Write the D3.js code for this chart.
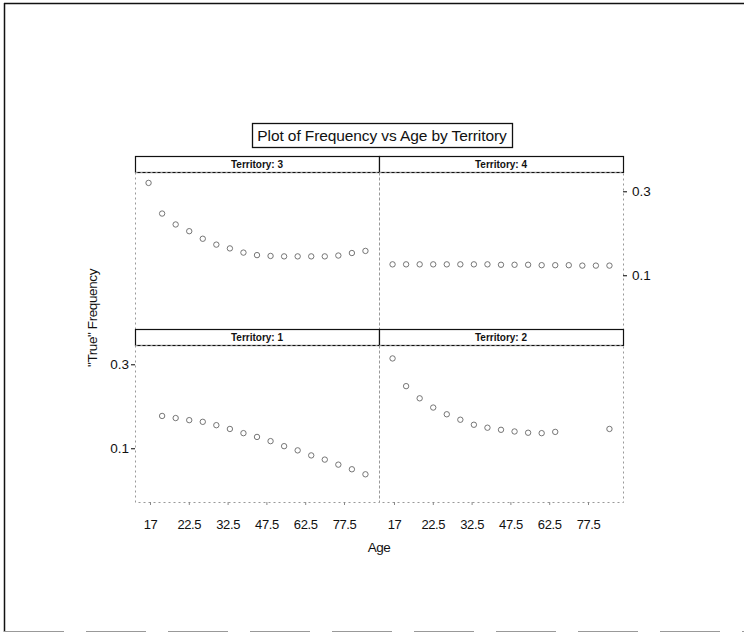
<!DOCTYPE html>
<html>
<head>
<meta charset="utf-8">
<script src="https://cdn.jsdelivr.net/npm/d3@7"></script>
<style>
  html, body { margin: 0; padding: 0; background: #fff; }
  svg { display: block; }
  text { font-family: "Liberation Sans", Arial, sans-serif; fill: #111; }
</style>
</head>
<body>
<svg id="chart" width="745" height="634"></svg>
<script>
// Age groups (ordered factor levels) shared by every panel
const ageLevels = ["17", "18", "19", "22.5", "25", "27.5", "32.5", "37.5", "42.5",
                   "47.5", "52.5", "57.5", "62.5", "67.5", "72.5", "77.5", "82.5"];
const ageTickLabels = ["17", "22.5", "32.5", "47.5", "62.5", "77.5"];
const freqTicks = [0.1, 0.3];

// "True" claim frequency by age, one array per territory (null = not plotted)
const territory1 = [null, 0.177, 0.172, 0.167, 0.163, 0.155, 0.146, 0.136, 0.127,
                    0.117, 0.105, 0.095, 0.083, 0.073, 0.061, 0.050, 0.038];
const territory2 = [0.314, 0.248, 0.219, 0.197, 0.181, 0.168, 0.156, 0.149, 0.144,
                    0.140, 0.137, 0.136, 0.139, null, null, null, 0.146];
const territory3 = [0.320, 0.247, 0.221, 0.205, 0.187, 0.173, 0.164, 0.154, 0.148,
                    0.146, 0.145, 0.145, 0.145, 0.145, 0.147, 0.153, 0.158];
const territory4 = [0.126, 0.126, 0.126, 0.126, 0.126, 0.126, 0.126, 0.126, 0.125,
                    0.125, 0.125, 0.124, 0.124, 0.124, 0.123, 0.123, 0.123];

const panels = [
  { label: "Territory: 3", values: territory3, col: 0, row: 0 },
  { label: "Territory: 4", values: territory4, col: 1, row: 0 },
  { label: "Territory: 1", values: territory1, col: 0, row: 1 },
  { label: "Territory: 2", values: territory2, col: 1, row: 1 }
];

const svg = d3.select("#chart");

// page frame
svg.append("line").attr("x1", 4).attr("y1", 3.5).attr("x2", 744).attr("y2", 3.5)
  .attr("stroke", "#111").attr("stroke-width", 1.5);
svg.append("line").attr("x1", 4.5).attr("y1", 3).attr("x2", 4.5).attr("y2", 632)
  .attr("stroke", "#111").attr("stroke-width", 1.5);
svg.append("line").attr("x1", 4).attr("y1", 631.5).attr("x2", 744).attr("y2", 631.5)
  .attr("stroke", "#999").attr("stroke-width", 1.2).attr("stroke-dasharray", "60,22");

// title box
const titleBox = { x: 252, y: 123, w: 260, h: 24 };
svg.append("rect").attr("x", titleBox.x + 0.5).attr("y", titleBox.y + 0.5)
  .attr("width", titleBox.w).attr("height", titleBox.h)
  .attr("fill", "#fff").attr("stroke", "#111").attr("stroke-width", 1.3);
svg.append("text").attr("x", titleBox.x + titleBox.w / 2).attr("y", titleBox.y + 17.5)
  .attr("text-anchor", "middle").attr("font-size", 15.5).attr("letter-spacing", -0.1)
  .text("Plot of Frequency vs Age by Territory");

// trellis layout
const left = 135, colW = 244, stripH = 16, panelH = 157;
const rowTop = [156, 329];

// point positions for the age groups, and the label positions along the axis
const x = d3.scalePoint().domain(ageLevels).range([0, colW]).padding(1);
const xTick = d3.scalePoint().domain(ageTickLabels).range([0, colW]).padding(0.644).align(0.3);
const y = d3.scaleLinear().domain([-0.028, 0.346]).range([panelH, 0]);

panels.forEach(p => {
  const gx = left + p.col * colW;
  const gy = rowTop[p.row];
  const g = svg.append("g").attr("transform", `translate(${gx},${gy})`);

  // strip
  g.append("rect").attr("x", 0.5).attr("y", 0.5).attr("width", colW).attr("height", stripH)
    .attr("fill", "#fff").attr("stroke", "#111").attr("stroke-width", 1.2);
  g.append("text").attr("x", colW / 2).attr("y", 12).attr("text-anchor", "middle")
    .attr("font-size", 10).attr("font-weight", "bold")
    .text(p.label);

  // panel body
  const body = g.append("g").attr("transform", `translate(0,${stripH})`);
  body.append("rect").attr("x", 0.5).attr("y", 0.5).attr("width", colW).attr("height", panelH)
    .attr("fill", "none").attr("stroke", "#999").attr("stroke-width", 1)
    .attr("stroke-dasharray", "2,3");

  // points
  body.selectAll("circle")
    .data(p.values.map((v, i) => ({ age: ageLevels[i], v })).filter(d => d.v != null))
    .join("circle")
    .attr("cx", d => x(d.age))
    .attr("cy", d => y(d.v))
    .attr("r", 2.7)
    .attr("fill", "none")
    .attr("stroke", "#666")
    .attr("stroke-width", 0.9);

  // y axis: left side on the bottom row, right side on the top row
  if (p.row === 1 && p.col === 0) {
    const ax = body.append("g").call(d3.axisLeft(y).tickValues(freqTicks).tickSize(4)
      .tickFormat(d3.format(".1f")));
    ax.select(".domain").remove();
    ax.selectAll("text").attr("font-size", 13.5).attr("x", -6)
      .style("font-family", "Liberation Sans, Arial, sans-serif");
  }
  if (p.row === 0 && p.col === 1) {
    const ax = body.append("g").attr("transform", `translate(${colW},0)`)
      .call(d3.axisRight(y).tickValues(freqTicks).tickSize(4).tickFormat(d3.format(".1f")));
    ax.select(".domain").remove();
    ax.selectAll("text").attr("font-size", 13.5).attr("x", 9)
      .style("font-family", "Liberation Sans, Arial, sans-serif");
  }

  // x axis on the bottom row
  if (p.row === 1) {
    const ax = body.append("g").attr("transform", `translate(0,${panelH})`)
      .call(d3.axisBottom(xTick).tickSize(3));
    ax.select(".domain").remove();
    ax.selectAll("line").attr("stroke", "#888");
    ax.selectAll("text").attr("font-size", 13).attr("y", 18).attr("letter-spacing", -0.4)
      .style("font-family", "Liberation Sans, Arial, sans-serif");
  }
});

// axis titles
svg.append("text").attr("x", 379).attr("y", 552).attr("text-anchor", "middle")
  .attr("font-size", 13.5).attr("letter-spacing", -0.5).text("Age");
svg.append("text").attr("transform", "translate(97,318) rotate(-90)")
  .attr("text-anchor", "middle").attr("font-size", 13.5).attr("letter-spacing", -0.4)
  .text("\"True\" Frequency");
</script>
</body>
</html>
